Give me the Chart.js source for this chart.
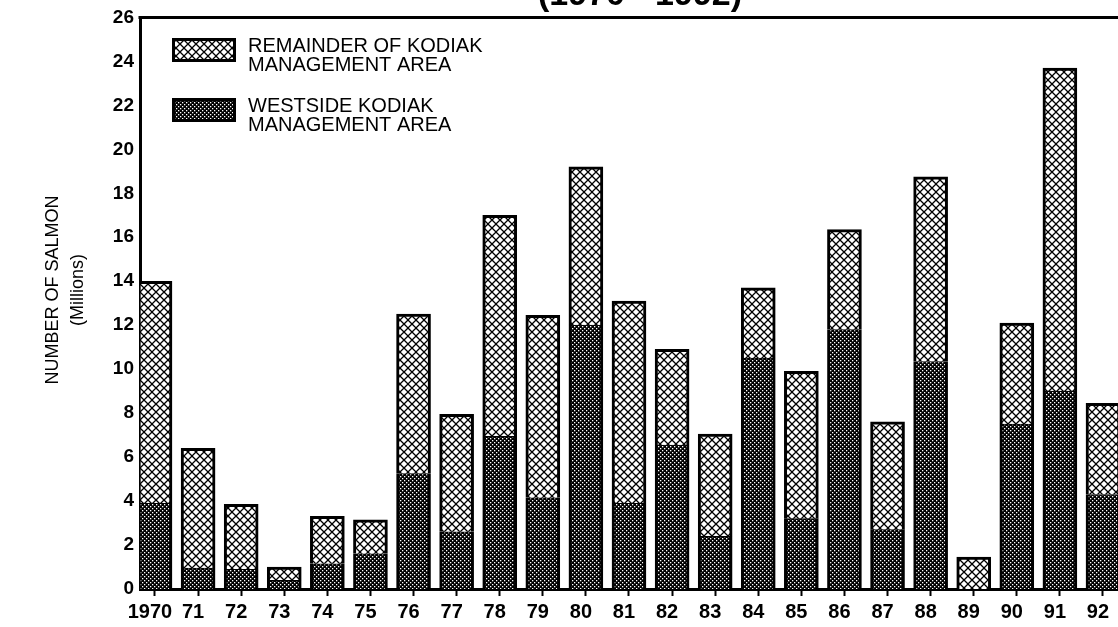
<!DOCTYPE html>
<html>
<head>
<meta charset="utf-8">
<title>Kodiak salmon</title>
<script src="https://cdn.jsdelivr.net/npm/chart.js@4.4.1/dist/chart.umd.min.js"></script>
<style>
  html, body { margin: 0; padding: 0; background: #fff; overflow: hidden; }
  #wrap { width: 1160px; height: 627px; }
</style>
</head>
<body>
<div id="wrap"><canvas id="salmonChart" width="1160" height="627"></canvas></div>
<script>
// harvest by year, millions of fish
const years = [1970, 1971, 1972, 1973, 1974, 1975, 1976, 1977, 1978, 1979, 1980, 1981,
               1982, 1983, 1984, 1985, 1986, 1987, 1988, 1989, 1990, 1991, 1992];
const yearLabels = ['1970', '71', '72', '73', '74', '75', '76', '77', '78', '79', '80', '81',
                    '82', '83', '84', '85', '86', '87', '88', '89', '90', '91', '92'];
const westside = [3.9, 0.95, 0.9, 0.4, 1.15, 1.6, 5.25, 2.6, 6.95, 4.15, 12.0, 3.9,
                  6.55, 2.4, 10.5, 3.2, 11.8, 2.7, 10.35, 0, 7.5, 9.0, 4.3];
const remainder = [10.1, 5.45, 2.95, 0.6, 2.15, 1.55, 7.25, 5.35, 10.05, 8.3, 7.2, 9.2,
                   4.35, 4.65, 3.2, 6.7, 4.55, 4.9, 8.4, 1.45, 4.6, 14.7, 4.15];
const westsideLines = ['WESTSIDE KODIAK', 'MANAGEMENT AREA'];
const remainderLines = ['REMAINDER OF KODIAK', 'MANAGEMENT AREA'];
const yTitle = ['NUMBER OF SALMON', '(Millions)'];
const topTitle = '(1970 - 1992)';

const FONT = '"Liberation Sans", Arial, Helvetica, sans-serif';

// open diamond lattice
function crossHatch() {
    const s = 8;
    const c = document.createElement('canvas');
    c.width = s; c.height = s;
    const g = c.getContext('2d');
    g.fillStyle = '#fff';
    g.fillRect(0, 0, s, s);
    g.strokeStyle = '#000';
    g.lineWidth = 1.3;
    g.beginPath();
    g.moveTo(-1, -1); g.lineTo(s + 1, s + 1);
    g.moveTo(s + 1, -1); g.lineTo(-1, s + 1);
    g.stroke();
    return g.createPattern(c, 'repeat');
}

// fine dark screen
function darkScreen() {
    const s = 4;
    const c = document.createElement('canvas');
    c.width = s; c.height = s;
    const g = c.getContext('2d');
    g.fillStyle = '#000';
    g.fillRect(0, 0, s, s);
    g.fillStyle = '#fff';
    g.fillRect(0, 0, 1.3, 1.3);
    g.fillRect(2, 2, 1.3, 1.3);
    return g.createPattern(c, 'repeat');
}

const hatch = crossHatch();
const screen = darkScreen();

// thick top frame line, the clipped heading above it, and the value-axis title
const frame = {
    id: 'frame',
    afterDraw(chart) {
        const {ctx, chartArea} = chart;
        ctx.save();
        ctx.strokeStyle = '#000';
        ctx.lineWidth = 3;
        ctx.beginPath();
        ctx.moveTo(chartArea.left - 1.5, chartArea.top);
        ctx.lineTo(chartArea.right, chartArea.top);
        ctx.stroke();
        ctx.fillStyle = '#000';
        ctx.font = 'bold 34px ' + FONT;
        ctx.textAlign = 'center';
        ctx.textBaseline = 'alphabetic';
        ctx.fillText(topTitle, 640, 5);

        ctx.translate(0, 290);
        ctx.rotate(-Math.PI / 2);
        ctx.font = '18px ' + FONT;
        ctx.textBaseline = 'middle';
        ctx.fillText(yTitle[0], 0, 53);
        ctx.fillText(yTitle[1], 0, 78);
        ctx.restore();
    }
};

// two-line legend in the upper left of the plot
const boxLegend = {
    id: 'boxLegend',
    afterDatasetsDraw(chart) {
        const {ctx, chartArea} = chart;
        const items = [
            {fill: chart.data.datasets[1].backgroundColor, lines: remainderLines, top: 38},
            {fill: chart.data.datasets[0].backgroundColor, lines: westsideLines, top: 98}
        ];
        const bx = chartArea.left + 32;
        ctx.save();
        items.forEach(function(item) {
            ctx.fillStyle = item.fill;
            ctx.fillRect(bx, item.top, 64, 24);
            ctx.strokeStyle = '#000';
            ctx.lineWidth = 3;
            ctx.strokeRect(bx + 1.5, item.top + 1.5, 61, 21);
            ctx.fillStyle = '#000';
            ctx.font = '20px ' + FONT;
            ctx.textAlign = 'left';
            ctx.textBaseline = 'alphabetic';
            item.lines.forEach(function(line, i) {
                ctx.fillText(line, bx + 76, item.top + 14 + i * 18.5);
            });
        });
        ctx.restore();
    }
};

const config = {
    type: 'bar',
    data: {
        datasets: [{
            label: westsideLines.join(' '),
            data: years.map((y, i) => ({x: y, y: westside[i]})),
            backgroundColor: screen,
            borderColor: '#000',
            borderWidth: {left: 3, right: 3, top: 1, bottom: 0},
            borderSkipped: false,
            barThickness: 34
        }, {
            label: remainderLines.join(' '),
            data: years.map((y, i) => ({x: y, y: remainder[i]})),
            backgroundColor: hatch,
            borderColor: '#000',
            borderWidth: 3,
            borderSkipped: 'start',
            barThickness: 34
        }]
    },
    options: {
        responsive: false,
        animation: false,
        layout: { padding: { top: 14, left: 0, right: 0, bottom: 0 } },
        plugins: {
            legend: { display: false },
            tooltip: { enabled: false }
        },
        scales: {
            x: {
                type: 'linear',
                stacked: true,
                offset: false,
                min: 1969.652,
                max: 1993.323,
                z: 1,
                afterBuildTicks: function(scale) {
                    scale.ticks = years.map(v => ({value: v}));
                },
                afterFit: function(scale) { scale.height = 38; },
                grid: {
                    display: true,
                    offset: false,
                    drawOnChartArea: false,
                    drawTicks: true,
                    tickLength: 7,
                    tickWidth: 2,
                    tickColor: '#000'
                },
                border: { display: true, color: '#000', width: 3 },
                ticks: {
                    autoSkip: false,
                    maxRotation: 0,
                    padding: 4,
                    labelOffset: -5,
                    color: '#000',
                    font: { family: FONT, size: 20, weight: 'bold' },
                    callback: function(v) { return yearLabels[years.indexOf(v)]; }
                }
            },
            y: {
                stacked: true,
                min: 0,
                max: 26,
                z: 1,
                afterFit: function(scale) { scale.width = 140; },
                grid: { display: false, drawTicks: false },
                border: { display: true, color: '#000', width: 3 },
                ticks: {
                    stepSize: 2,
                    padding: 6,
                    color: '#000',
                    font: { family: FONT, size: 19, weight: 'bold' }
                }
            }
        }
    },
    plugins: [frame, boxLegend]
};

new Chart(document.getElementById('salmonChart'), config);
</script>
</body>
</html>
